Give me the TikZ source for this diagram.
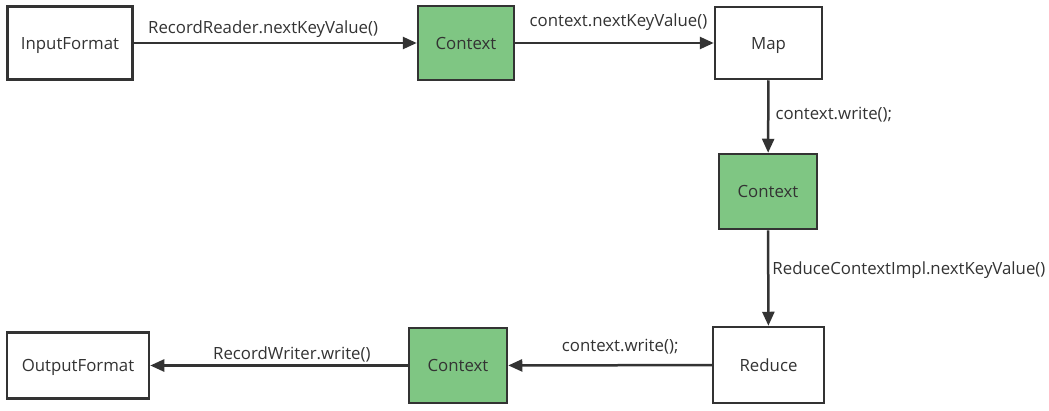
\documentclass[tikz,border=0pt]{standalone}
\usepackage{fontspec}
\setmainfont{Open Sans}
\usetikzlibrary{arrows.meta}
\definecolor{edgegray}{HTML}{333333}
\definecolor{ctxgreen}{HTML}{7FC683}
\definecolor{txtgray}{HTML}{333333}
\begin{document}
\begin{tikzpicture}[x=1pt,y=-1pt,
  box/.style={draw=edgegray, line width=2.5pt, fill=white, inner sep=0pt, font=\fontsize{16.8}{19}\selectfont, text=txtgray, text height=14pt, text depth=2pt},
  ctx/.style={box, fill=ctxgreen},
  arr/.style={draw=edgegray, line width=2.5pt, -{Triangle[length=14pt,width=12pt]}},
  lbl/.style={font=\fontsize{16.8}{19}\selectfont, text=txtgray, inner sep=0pt}]
\useasboundingbox[fill=white] (0,0) rectangle (1049,410);
\node[box, minimum width=125pt, minimum height=73pt] (in) at (70,43) {InputFormat};
\node[ctx, minimum width=96pt, minimum height=74pt] (c1) at (466,43) {Context};
\node[box, minimum width=107pt, minimum height=72pt] (map) at (768.5,43) {Map};
\node[ctx, minimum width=98pt, minimum height=75pt] (c2) at (768,191.5) {Context};
\node[box, minimum width=111pt, minimum height=76pt] (red) at (768.5,365) {Reduce};
\node[ctx, minimum width=98pt, minimum height=75pt] (c3) at (458,365.5) {Context};
\node[box, minimum width=142pt, minimum height=66pt] (out) at (78,365.5) {OutputFormat};
\draw[arr] (in) -- node[lbl, pos=0.457, above=4pt] {RecordReader.nextKeyValue()} (c1);
\draw[arr] (c1) -- node[lbl, pos=0.52, above=11pt] {context.nextKeyValue()} (map);
\draw[arr] (map) -- node[lbl, pos=0.47, right=6pt] {context.write();} (c2);
\draw[arr] (c2) -- node[lbl, pos=0.42, right=3pt] {ReduceContextImpl.nextKeyValue()} (red);
\draw[arr] (red) -- node[lbl, pos=0.45, above=10pt] {context.write();} (c3);
\draw[arr] (c3) -- node[lbl, pos=0.45, above=2pt] {RecordWriter.write()} (out);
\end{tikzpicture}
\end{document}
